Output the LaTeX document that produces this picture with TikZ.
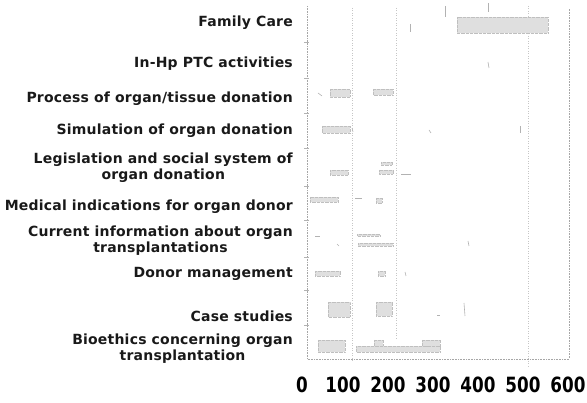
\documentclass[tikz,border=0pt]{standalone}
\usepackage{fontspec}
\setmainfont{DejaVu Sans}
\newfontfamily\labfont[LetterSpace=1.5]{DejaVu Sans}
\begin{document}
\begin{tikzpicture}[x=1pt,y=-1pt,
  lab/.style={anchor=east,align=center,font=\labfont\fontsize{14}{16}\bfseries,inner sep=0pt,text=black!90},
  num/.style={anchor=center,inner sep=0pt,font=\fontsize{21}{21}\bfseries},
  frameline/.style={draw=gray!70,densely dotted,line width=0.6pt},
  gridline/.style={draw=gray!45,dotted,line width=0.5pt},
  patch/.style={fill=gray!25,draw=gray!50,densely dotted,line width=0.3pt},
  speck/.style={draw=gray!60,line width=0.6pt}]
\useasboundingbox (0,0) rectangle (587,403);
% frame
\coordinate (tl) at (307,6);
\coordinate (bl) at (307,359);
\coordinate (br) at (569,359);
\coordinate (tr) at (569,8);
\draw[frameline] (tl) -- (bl) -- (br) -- (tr);
% grid lines
\coordinate (g1t) at (352,8);   \coordinate (g1b) at (352,362);
\coordinate (g2t) at (396,8);   \coordinate (g2b) at (396,340);
\coordinate (g3t) at (528,6);   \coordinate (g3b) at (528,368);
\draw[gridline] (g1t) -- (g1b);
\draw[gridline] (g2t) -- (g2b);
\draw[gridline] (g3t) -- (g3b);
% left ticks
\foreach \yy in {42,78,113,148,186,220,257,290,325}{
  \draw[speck] (304,\yy) -- (309,\yy);
}
% row labels
\node[lab] (r1) at (293,23) {Family Care};
\node[lab] (r2) at (293,64) {In-Hp PTC activities};
\node[lab] (r3) at (293,99) {Process of organ/tissue donation};
\node[lab] (r4) at (293,131) {Simulation of organ donation};
\node[lab] (r5) at (293,168) {Legislation and social system of\\organ donation};
\node[lab] (r6) at (293,207) {Medical indications for organ donor};
\node[lab] (r7) at (293,241) {Current information about organ\\transplantations};
\node[lab] (r8) at (293,274) {Donor management};
\node[lab] (r9) at (293,316) {Case studies};
\node[lab] (r10) at (293,349) {Bioethics concerning organ\\transplantation};
% axis numbers
\node[num] (n0) at (302,385) {\scalebox{0.8}[1]{0}};
\node[num] (n1) at (343,385) {\scalebox{0.8}[1]{100}};
\node[num] (n2) at (388,385) {\scalebox{0.8}[1]{200}};
\node[num] (n3) at (433,385) {\scalebox{0.8}[1]{300}};
\node[num] (n4) at (478,385) {\scalebox{0.8}[1]{400}};
\node[num] (n5) at (523,385) {\scalebox{0.8}[1]{500}};
\node[num] (n6) at (568,385) {\scalebox{0.8}[1]{600}};
% faint bar remnants
% Family Care
\fill[patch] (457,17) rectangle (548,33);
\draw[speck] (410,24) -- (410,32);
\draw[speck] (445,6) -- (445,17);
\draw[speck] (488,3) -- (488,12);
% In-Hp PTC
\draw[speck] (488,62) -- (489,68);
% Process
\fill[patch] (330,89) rectangle (350,97);
\fill[patch] (373,89) rectangle (393,95);
\draw[speck] (318,93) -- (322,96);
% Simulation
\fill[patch] (322,126) rectangle (350,133);
\draw[speck] (352,128) -- (353,132);
\draw[speck] (429,130) -- (431,133);
\draw[speck] (520,126) -- (520,133);
% Legislation
\fill[patch] (330,170) rectangle (348,175);
\fill[patch] (379,170) rectangle (393,174);
\fill[patch] (381,162) rectangle (392,165);
\draw[speck] (401,174) -- (411,174);
% Medical indications
\fill[patch] (310,197) rectangle (338,202);
\draw[speck] (355,198) -- (362,198);
\fill[patch] (376,198) rectangle (382,203);
% Current information
\draw[speck] (315,236) -- (320,236);
\fill[patch] (357,234) rectangle (380,236);
\fill[patch] (358,243) rectangle (393,246);
\draw[speck] (337,244) -- (339,246);
\draw[speck] (468,241) -- (469,246);
% Donor management
\fill[patch] (315,271) rectangle (340,276);
\fill[patch] (378,271) rectangle (385,276);
\draw[speck] (405,272) -- (406,276);
% Case studies
\fill[patch] (328,302) rectangle (350,317);
\fill[patch] (376,302) rectangle (392,316);
\draw[speck] (464,303) -- (465,316);
\draw[speck] (437,315) -- (440,315);
% Bioethics
\fill[patch] (318,340) rectangle (345,352);
\fill[patch] (356,346) rectangle (440,352);
\fill[patch] (374,340) rectangle (383,346);
\fill[patch] (422,340) rectangle (440,346);
\end{tikzpicture}
\end{document}
